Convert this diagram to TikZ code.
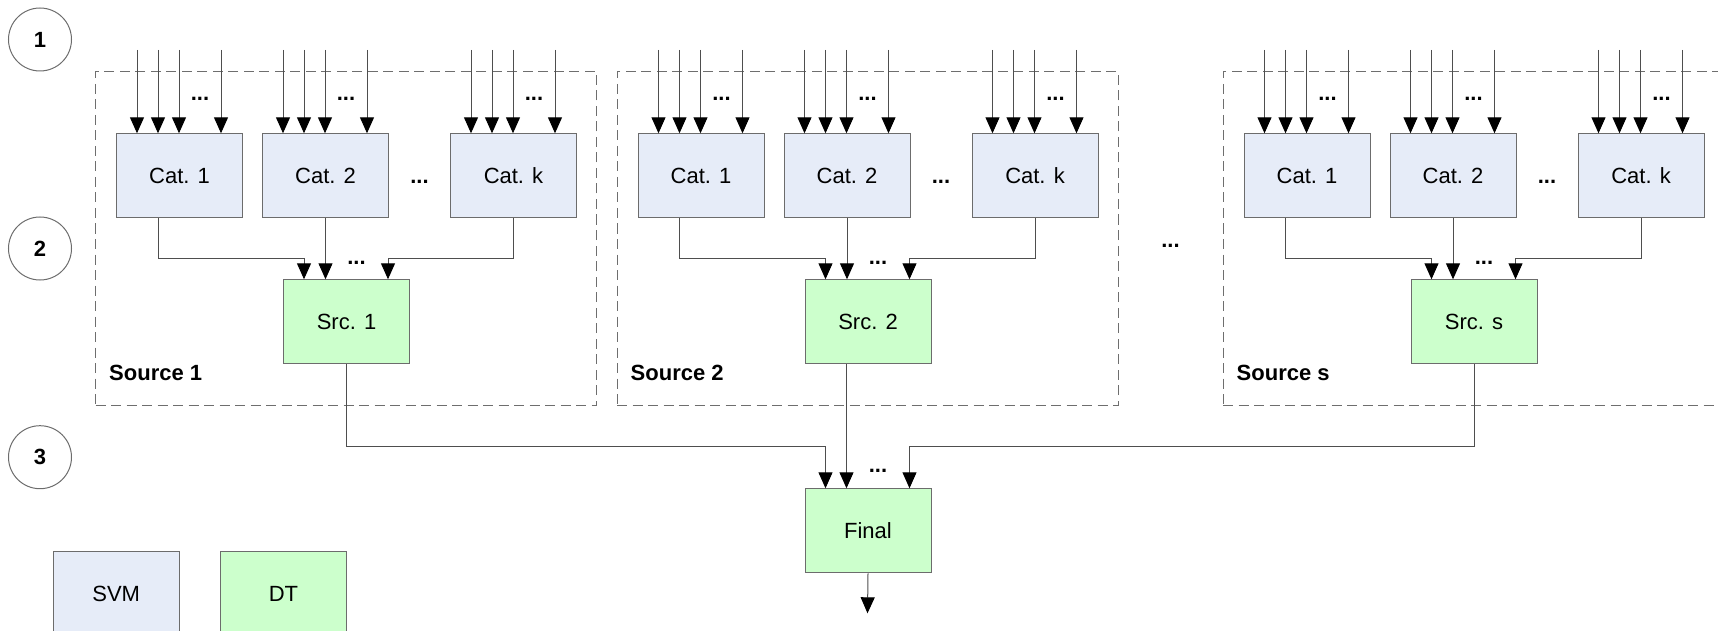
\documentclass[tikz,border=0pt]{standalone}
\usepackage{fontspec}
\setmainfont{Liberation Sans}
\usetikzlibrary{arrows.meta,calc}

\definecolor{svmfill}{HTML}{E6ECF8}
\definecolor{dtfill}{HTML}{CCFFCC}
\definecolor{edge}{HTML}{6C6C6C}
\definecolor{wire}{HTML}{4E4E4E}
\definecolor{frame}{HTML}{6E6E6E}

\tikzset{
  box/.style={draw=edge, line width=1pt, minimum width=126pt, minimum height=84pt,
    inner sep=0pt, anchor=north west, font=\fontsize{22}{26}\selectfont},
  svmbox/.style={box, fill=svmfill},
  dtbox/.style={box, fill=dtfill},
  wirearrow/.style={draw=wire, line width=1pt, -{Triangle[length=16pt,width=14pt,color=black]}},
  groupframe/.style={draw=frame, line width=1pt, dash pattern=on 10pt off 5.5pt,
    anchor=north west, minimum width=501pt, minimum height=334pt, inner sep=0pt},
  stage/.style={circle, draw=edge, line width=1pt, minimum size=63pt, inner sep=0pt,
    font=\fontsize{22}{26}\selectfont\bfseries},
  dots/.style={inner sep=0pt, anchor=base, font=\fontsize{22}{26}\selectfont\bfseries},
  grouplabel/.style={inner sep=0pt, anchor=base west, font=\fontsize{22}{26}\selectfont\bfseries},
}

\begin{document}
\begin{tikzpicture}[x=1pt, y=-1pt]
\useasboundingbox (0,0) rectangle (1718,631);
\clip (0,0) rectangle (1718,631);

% stage markers
\node[stage] (stage1) at (40,39.5) {1};
\node[stage] (stage2) at (40,248.5) {2};
\node[stage] (stage3) at (40,457.2) {3};

% one block per source: category SVMs feeding a source DT
\foreach \L/\k/\s in {95/1/1, 616.5/2/2, 1222.5/s/3} {
  \node[groupframe] (grp\s) at (\L,71) {};
  \node[grouplabel] (glabel\s) at (\L+14,380.7) {Source \k};

  \node[svmbox] (c\s-1) at (\L+21,133.3) {Cat. 1};
  \node[svmbox] (c\s-2) at (\L+167,133.3) {Cat. 2};
  \node[svmbox] (c\s-k) at (\L+355,133.3) {Cat. k};
  \node[dtbox] (src\s) at (\L+188,279.3) {Src. \k};

  % feature inputs of each category model
  \foreach \c in {1,2,k} {
    \foreach \o in {21,42,63,105} {
      \coordinate (in\s-\c-\o) at ($(c\s-\c.north west)+(\o,-83.3)$);
      \draw[wirearrow] (in\s-\c-\o) -- (in\s-\c-\o |- c\s-\c.north);
    }
    \node[dots] (indots\s-\c) at ($(c\s-\c.north west)+(84,-32.3)$) {...};
  }
  \node[dots] (catdots\s) at ($(c\s-2.east)!0.5!(c\s-k.west)+(0,7.4)$) {...};

  % category outputs into the source model
  \draw[wirearrow] ($(c\s-1.south west)+(42,0)$) |- ($(src\s.north west)+(21,-21)$)
    -- ($(src\s.north west)+(21,0)$);
  \draw[wirearrow] (c\s-2.south) -- (c\s-2.south |- src\s.north);
  \draw[wirearrow] (c\s-k.south) |- ($(src\s.north west)+(105,-21)$)
    -- ($(src\s.north west)+(105,0)$);
  \node[dots] (srcdots\s) at ($(src\s.north west)+(73.5,-15.3)$) {...};
}

\node[dots] (blockdots) at ($(grp2.east)!0.5!(grp3.west)+(0,9.3)$) {...};

% final decision tree
\node[dtbox] (final) at (804.5,488.3) {Final};
\draw[wirearrow] (src1.south) |- ($(final.north west)+(21,-41.6)$)
  -- ($(final.north west)+(21,0)$);
\draw[wirearrow] ($(src2.south west)+(42,0)$) -- ($(final.north west)+(42,0)$);
\draw[wirearrow] (src3.south) |- ($(final.north west)+(105,-41.6)$)
  -- ($(final.north west)+(105,0)$);
\node[dots] (finaldots) at ($(final.north west)+(73.5,-15.6)$) {...};
\coordinate (out) at (867.5,613.3);
\draw[wirearrow] (final.south) -- (out);

% legend
\node[svmbox] (legsvm) at (52.7,551) {SVM};
\node[dtbox] (legdt) at (220,551) {DT};
\end{tikzpicture}
\end{document}
